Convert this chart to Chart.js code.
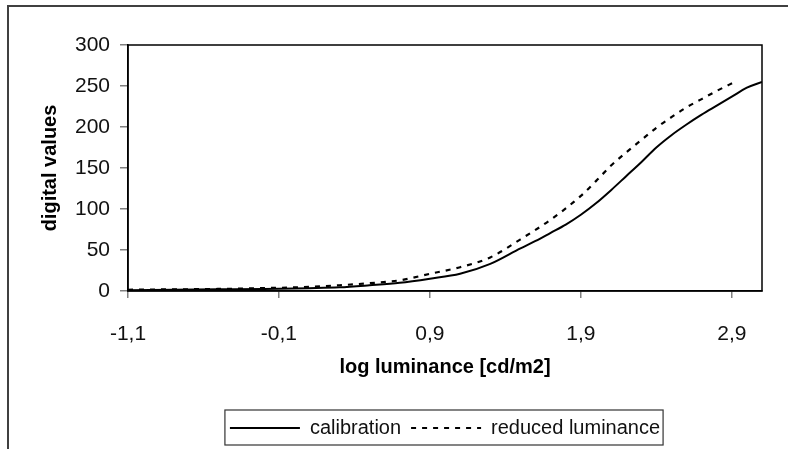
<!DOCTYPE html>
<html>
<head>
<meta charset="utf-8">
<script src="https://cdn.jsdelivr.net/npm/chart.js@4.4.1/dist/chart.umd.min.js"></script>
<style>
  html, body { margin: 0; padding: 0; background: #fff; }
  #wrap { width: 788px; height: 449px; position: relative; }
</style>
</head>
<body>
<div id="wrap"><canvas id="grafico"></canvas></div>
<script>
// Dados
const logLuminancia = [-1.1, -0.8, -0.5, -0.2, 0.1, 0.3, 0.5, 0.7, 0.9, 1.1, 1.3, 1.5, 1.6, 1.7, 1.8, 1.9, 2.0, 2.1, 2.2, 2.3, 2.4, 2.5, 2.6, 2.7, 2.8, 2.9, 3.0, 3.1];
const calibracao = [1, 1.5, 2, 2.5, 3.5, 4.5, 7, 10, 15, 21, 33, 52, 61, 71, 81, 93, 107, 123, 140, 157, 175, 190, 203, 215, 226, 237, 248, 255];

const logLuminanciaReduzida = [-1.1, -0.8, -0.5, -0.2, 0.1, 0.3, 0.5, 0.7, 0.9, 1.1, 1.3, 1.5, 1.7, 1.9, 2.0, 2.1, 2.2, 2.3, 2.4, 2.5, 2.6, 2.7, 2.8, 2.92];
const luminanciaReduzida = [1.5, 2, 2.5, 3.5, 5, 7, 9.5, 13, 21, 29, 41, 63, 87, 116, 134, 153, 169, 184, 199, 212, 224, 234, 244, 255];

const xTicks = [-1.1, -0.1, 0.9, 1.9, 2.9];
const xTickLabels = ["-1,1", "-0,1", "0,9", "1,9", "2,9"];
const yTicks = [0, 50, 100, 150, 200, 250, 300];

const fonteTick = { family: "'Liberation Sans', Arial, sans-serif", size: 21 };
const fonteTitulo = { family: "'Liberation Sans', Arial, sans-serif", size: 20, weight: "bold" };

// Moldura da figura, do gráfico e da legenda
const molduras = {
  id: "molduras",
  afterDraw(chart) {
    const ctx = chart.ctx;
    const a = chart.chartArea;
    ctx.save();
    ctx.strokeStyle = "#000";
    ctx.lineWidth = 1.5;
    ctx.strokeRect(a.left, a.top, a.right - a.left, a.bottom - a.top);

    ctx.strokeStyle = "#404040";
    ctx.lineWidth = 2;
    ctx.strokeRect(8, 6, 800, 500);

    const boxes = chart.legend.legendHitBoxes;
    if (boxes && boxes.length) {
      const first = boxes[0];
      const last = boxes[boxes.length - 1];
      const left = first.left - 5;
      const right = last.left + last.width + 3;
      const top = first.top - 8;
      const bottom = first.top + first.height + 7;
      ctx.strokeStyle = "#333";
      ctx.lineWidth = 1.2;
      ctx.strokeRect(left, top, right - left, bottom - top);
    }
    ctx.restore();
  },
};

new Chart(document.getElementById("grafico"), {
  type: "line",
  data: {
    datasets: [
      {
        label: "calibration",
        data: logLuminancia.map((x, i) => ({ x: x, y: calibracao[i] })),
        borderColor: "#000",
        borderWidth: 2,
        pointRadius: 0,
        pointStyle: "line",
        cubicInterpolationMode: "monotone",
        fill: false,
      },
      {
        label: "reduced luminance",
        data: logLuminanciaReduzida.map((x, i) => ({ x: x, y: luminanciaReduzida[i] })),
        borderColor: "#000",
        borderWidth: 2.2,
        borderDash: [5, 6],
        pointRadius: 0,
        pointStyle: "line",
        cubicInterpolationMode: "monotone",
        fill: false,
      },
    ],
  },
  options: {
    responsive: true,
    maintainAspectRatio: false,
    animation: false,
    layout: { padding: { top: 45, right: 26, left: 0, bottom: 1 } },
    plugins: {
      tooltip: { enabled: false },
      legend: {
        position: "bottom",
        fullSize: false,
        labels: {
          usePointStyle: true,
          pointStyleWidth: 70,
          boxHeight: 20,
          padding: 10,
          color: "#111",
          font: { family: "'Liberation Sans', Arial, sans-serif", size: 20 },
          // com usePointStyle o estilo vem do ponto, então repõe o tracejado do dataset
          generateLabels: (chart) => {
            const itens = Chart.defaults.plugins.legend.labels.generateLabels(chart);
            itens.forEach((item) => {
              const ds = chart.data.datasets[item.datasetIndex];
              item.lineDash = ds.borderDash || [];
              item.lineWidth = 2;
              item.strokeStyle = "#000";
            });
            return itens;
          },
        },
      },
    },
    scales: {
      x: {
        type: "linear",
        min: -1.1,
        max: 3.1,
        afterFit: (s) => { s.height = 117; },
        afterBuildTicks: (s) => { s.ticks = xTicks.map((v) => ({ value: v })); },
        grid: { drawOnChartArea: false, drawTicks: true, tickLength: 7, color: "#808080", lineWidth: 1.5 },
        border: { display: true, color: "#000", width: 1.5 },
        ticks: {
          padding: 24,
          color: "#111",
          font: fonteTick,
          maxRotation: 0,
          autoSkip: false,
          callback: (v) => xTickLabels[xTicks.indexOf(v)],
        },
        title: {
          display: true,
          text: "log luminance [cd/m2]",
          color: "#000",
          font: fonteTitulo,
          padding: { top: 0, bottom: 29 },
        },
      },
      y: {
        min: 0,
        max: 300,
        afterFit: (s) => { s.width = 128; },
        afterBuildTicks: (s) => { s.ticks = yTicks.map((v) => ({ value: v })); },
        grid: { drawOnChartArea: false, drawTicks: true, tickLength: 8, color: "#808080", lineWidth: 1.5 },
        border: { display: true, color: "#000", width: 1.5 },
        ticks: { padding: 10, color: "#111", font: fonteTick },
        title: {
          display: true,
          text: "digital values",
          color: "#000",
          font: fonteTitulo,
          padding: { top: 38, bottom: 0 },
        },
      },
    },
  },
  plugins: [molduras],
});
</script>
</body>
</html>
